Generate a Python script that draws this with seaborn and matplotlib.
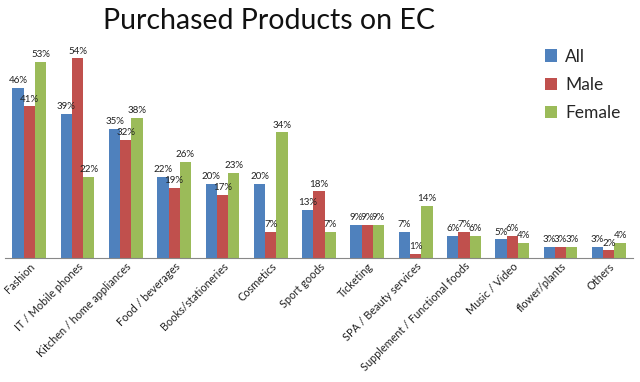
import matplotlib
matplotlib.use("Agg")
import matplotlib.pyplot as plt
import seaborn as sns
import pandas as pd

categories = ["Fashion", "IT / Mobile phones", "Kitchen / home appliances", "Food / beverages",
              "Books/stationeries", "Cosmetics", "Sport goods", "Ticketing",
              "SPA / Beauty services", "Supplement / Functional foods", "Music / Video",
              "flower/plants", "Others"]
all_vals = [46, 39, 35, 22, 20, 20, 13, 9, 7, 6, 5, 3, 3]
male_vals = [41, 54, 32, 19, 17, 7, 18, 9, 1, 7, 6, 3, 2]
female_vals = [53, 22, 38, 26, 23, 34, 7, 9, 14, 6, 4, 3, 4]
series = ["All", "Male", "Female"]
colors = ["#4F81BD", "#C0504D", "#9BBB59"]

rows = []
for s, vals in zip(series, [all_vals, male_vals, female_vals]):
    for c, v in zip(categories, vals):
        rows.append({"Category": c, "Series": s, "Value": v})
df = pd.DataFrame(rows)

sns.set_style("white")
plt.rcParams['font.family'] = ['Lato', 'DejaVu Sans']

fig = plt.figure(figsize=(6.4, 3.82), dpi=100)
ax = fig.add_axes([0.008, 0.325, 0.981, 0.58])
sns.barplot(data=df, x="Category", y="Value", hue="Series", palette=colors,
            width=0.7, saturation=1, ax=ax, edgecolor="none")
for cont in ax.containers:
    ax.bar_label(cont, labels=[f"{int(v)}%" for v in cont.datavalues],
                 fontsize=7, padding=2, color="#222222")
ax.set_ylim(0, 60)
ax.set_xlim(-0.5, len(categories) - 0.5)
ax.set_xlabel("")
ax.set_ylabel("")
ax.set_yticks([])
for sp in ["top", "right", "left"]:
    ax.spines[sp].set_visible(False)
ax.spines["bottom"].set_color("#888888")
ax.tick_params(axis="x", length=0, pad=2)
ax.set_xticks(range(len(categories)))
ax.set_xticklabels(categories, rotation=45, ha="right", rotation_mode="anchor",
                   fontsize=7.8, color="#222222")
leg = ax.legend(loc="upper right", bbox_to_anchor=(1.005, 1.015), frameon=False, fontsize=12.5,
                handlelength=0.7, handleheight=0.7, labelspacing=0.7, handletextpad=0.45)
fig.text(0.42, 0.945, "Purchased Products on EC", ha="center", va="center", fontsize=20.5,
         color="#111111")
fig.savefig("out.png", dpi=100)
